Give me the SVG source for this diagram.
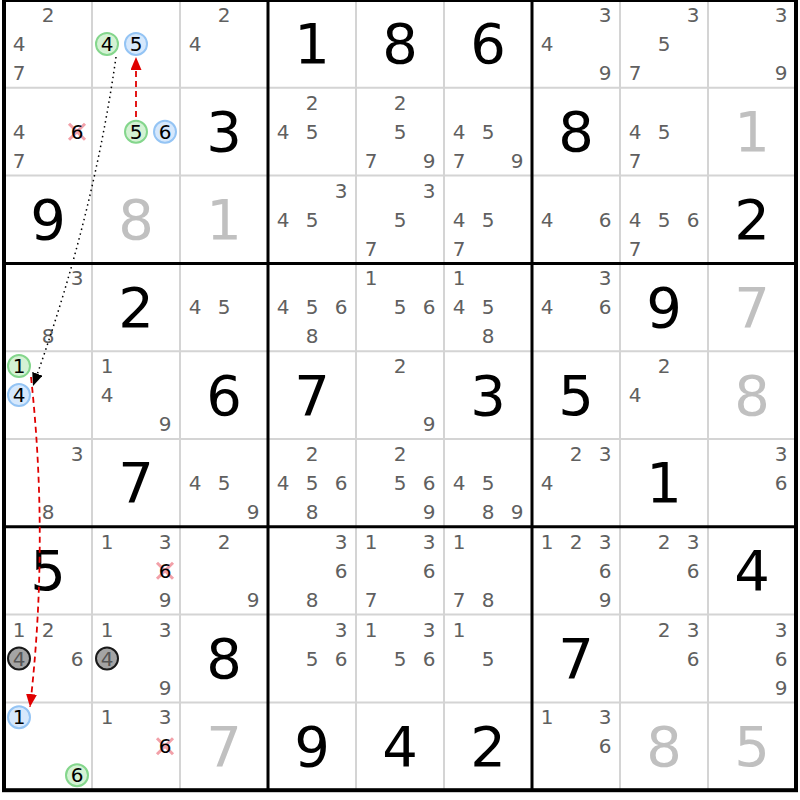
<svg xmlns="http://www.w3.org/2000/svg" width="800" height="800" viewBox="0 0 800 800">
<style>
text{font-family:"DejaVu Sans","Liberation Sans",sans-serif;text-anchor:middle}
.c{font-size:20px;fill:#606060}
.k{font-size:20px;fill:#000}
.g{font-size:56px;fill:#000}
.s{font-size:56px;fill:#c0c0c0}
.thin{stroke:#d4d4d4;stroke-width:2}
.thick{stroke:#000;stroke-width:3}
.cg{fill:#d4f2d4;stroke:#84d68c;stroke-width:2}
.cb{fill:#d6e8fc;stroke:#94c4f4;stroke-width:2}
.cd{fill:#a4a4a4;stroke:#1a1a1a;stroke-width:2}
.x{stroke:#f2a0a8;stroke-width:3}
.dg{font-size:20px;fill:#555}
</style>
<defs>
<marker id="ar" markerUnits="userSpaceOnUse" markerWidth="14" markerHeight="11" refX="13" refY="5.5" orient="auto"><path d="M0,0 L13,5.5 L0,11 z" fill="#e00000"/></marker>
<marker id="ak" markerUnits="userSpaceOnUse" markerWidth="14" markerHeight="11" refX="13" refY="5.5" orient="auto"><path d="M0,0 L13,5.5 L0,11 z" fill="#000"/></marker>
</defs>
<rect x="0" y="0" width="800" height="800" fill="#fff"/>
<g id="grid">
<path class="thin" d="M92,0V790M180,0V790M356,0V790M444,0V790M620,0V790M708,0V790M4,87.8H796M4,175.6H796M4,351.2H796M4,439H796M4,614.6H796M4,702.4H796"/>
<path class="thick" d="M268,0V790.2M532,0V790.2M4,263.4H796M4,526.8H796"/>
<rect x="4" y="0" width="792" height="790.2" fill="none" stroke="#000" stroke-width="4"/>
</g>
<g id="r1c1"><text class="c" x="48" y="22">2</text><text class="c" x="19" y="51">4</text><text class="c" x="19" y="80">7</text></g>
<g id="r1c2"><circle class="cg" cx="107" cy="43.9" r="11"/><circle class="cb" cx="136" cy="43.9" r="11"/><text class="k" x="107" y="51">4</text><text class="k" x="136" y="51">5</text></g>
<g id="r1c3"><text class="c" x="224" y="22">2</text><text class="c" x="195" y="51">4</text></g>
<g id="r1c4"><text class="g" x="312" y="63.4">1</text></g>
<g id="r1c5"><text class="g" x="400" y="63.4">8</text></g>
<g id="r1c6"><text class="g" x="488" y="63.4">6</text></g>
<g id="r1c7"><text class="c" x="605" y="22">3</text><text class="c" x="547" y="51">4</text><text class="c" x="605" y="80">9</text></g>
<g id="r1c8"><text class="c" x="693" y="22">3</text><text class="c" x="664" y="51">5</text><text class="c" x="635" y="80">7</text></g>
<g id="r1c9"><text class="c" x="781" y="22">3</text><text class="c" x="781" y="80">9</text></g>

<g id="r2c1"><text class="c" x="19" y="139">4</text><text class="c" x="19" y="168">7</text><path class="x" d="M69,123.7L85,139.7M85,123.7L69,139.7"/><text class="k" x="77" y="139">6</text></g>
<g id="r2c2"><circle class="cg" cx="136" cy="131.7" r="11"/><circle class="cb" cx="165" cy="131.7" r="11"/><text class="k" x="136" y="139">5</text><text class="k" x="165" y="139">6</text></g>
<g id="r2c3"><text class="g" x="224" y="151.2">3</text></g>
<g id="r2c4"><text class="c" x="312" y="110">2</text><text class="c" x="283" y="139">4</text><text class="c" x="312" y="139">5</text></g>
<g id="r2c5"><text class="c" x="400" y="110">2</text><text class="c" x="400" y="139">5</text><text class="c" x="371" y="168">7</text><text class="c" x="429" y="168">9</text></g>
<g id="r2c6"><text class="c" x="459" y="139">4</text><text class="c" x="488" y="139">5</text><text class="c" x="459" y="168">7</text><text class="c" x="517" y="168">9</text></g>
<g id="r2c7"><text class="g" x="576" y="151.2">8</text></g>
<g id="r2c8"><text class="c" x="635" y="139">4</text><text class="c" x="664" y="139">5</text><text class="c" x="635" y="168">7</text></g>
<g id="r2c9"><text class="s" x="752" y="151.2">1</text></g>

<g id="r3c1"><text class="g" x="48" y="239">9</text></g>
<g id="r3c2"><text class="s" x="136" y="239">8</text></g>
<g id="r3c3"><text class="s" x="224" y="239">1</text></g>
<g id="r3c4"><text class="c" x="341" y="198">3</text><text class="c" x="283" y="227">4</text><text class="c" x="312" y="227">5</text></g>
<g id="r3c5"><text class="c" x="429" y="198">3</text><text class="c" x="400" y="227">5</text><text class="c" x="371" y="256">7</text></g>
<g id="r3c6"><text class="c" x="459" y="227">4</text><text class="c" x="488" y="227">5</text><text class="c" x="459" y="256">7</text></g>
<g id="r3c7"><text class="c" x="547" y="227">4</text><text class="c" x="605" y="227">6</text></g>
<g id="r3c8"><text class="c" x="635" y="227">4</text><text class="c" x="664" y="227">5</text><text class="c" x="693" y="227">6</text><text class="c" x="635" y="256">7</text></g>
<g id="r3c9"><text class="g" x="752" y="239">2</text></g>

<g id="r4c1"><text class="c" x="77" y="285">3</text><text class="c" x="48" y="343">8</text></g>
<g id="r4c2"><text class="g" x="136" y="326.8">2</text></g>
<g id="r4c3"><text class="c" x="195" y="314">4</text><text class="c" x="224" y="314">5</text></g>
<g id="r4c4"><text class="c" x="283" y="314">4</text><text class="c" x="312" y="314">5</text><text class="c" x="341" y="314">6</text><text class="c" x="312" y="343">8</text></g>
<g id="r4c5"><text class="c" x="371" y="285">1</text><text class="c" x="400" y="314">5</text><text class="c" x="429" y="314">6</text></g>
<g id="r4c6"><text class="c" x="459" y="285">1</text><text class="c" x="459" y="314">4</text><text class="c" x="488" y="314">5</text><text class="c" x="488" y="343">8</text></g>
<g id="r4c7"><text class="c" x="605" y="285">3</text><text class="c" x="547" y="314">4</text><text class="c" x="605" y="314">6</text></g>
<g id="r4c8"><text class="g" x="664" y="326.8">9</text></g>
<g id="r4c9"><text class="s" x="752" y="326.8">7</text></g>

<g id="r5c1"><circle class="cg" cx="19" cy="366.1" r="11"/><circle class="cb" cx="19" cy="395.1" r="11"/><text class="k" x="19" y="373">1</text><text class="k" x="19" y="402">4</text></g>
<g id="r5c2"><text class="c" x="107" y="373">1</text><text class="c" x="107" y="402">4</text><text class="c" x="165" y="431">9</text></g>
<g id="r5c3"><text class="g" x="224" y="414.6">6</text></g>
<g id="r5c4"><text class="g" x="312" y="414.6">7</text></g>
<g id="r5c5"><text class="c" x="400" y="373">2</text><text class="c" x="429" y="431">9</text></g>
<g id="r5c6"><text class="g" x="488" y="414.6">3</text></g>
<g id="r5c7"><text class="g" x="576" y="414.6">5</text></g>
<g id="r5c8"><text class="c" x="664" y="373">2</text><text class="c" x="635" y="402">4</text></g>
<g id="r5c9"><text class="s" x="752" y="414.6">8</text></g>

<g id="r6c1"><text class="c" x="77" y="461">3</text><text class="c" x="48" y="519">8</text></g>
<g id="r6c2"><text class="g" x="136" y="502.4">7</text></g>
<g id="r6c3"><text class="c" x="195" y="490">4</text><text class="c" x="224" y="490">5</text><text class="c" x="253" y="519">9</text></g>
<g id="r6c4"><text class="c" x="312" y="461">2</text><text class="c" x="283" y="490">4</text><text class="c" x="312" y="490">5</text><text class="c" x="341" y="490">6</text><text class="c" x="312" y="519">8</text></g>
<g id="r6c5"><text class="c" x="400" y="461">2</text><text class="c" x="400" y="490">5</text><text class="c" x="429" y="490">6</text><text class="c" x="429" y="519">9</text></g>
<g id="r6c6"><text class="c" x="459" y="490">4</text><text class="c" x="488" y="490">5</text><text class="c" x="488" y="519">8</text><text class="c" x="517" y="519">9</text></g>
<g id="r6c7"><text class="c" x="576" y="461">2</text><text class="c" x="605" y="461">3</text><text class="c" x="547" y="490">4</text></g>
<g id="r6c8"><text class="g" x="664" y="502.4">1</text></g>
<g id="r6c9"><text class="c" x="781" y="461">3</text><text class="c" x="781" y="490">6</text></g>

<g id="r7c1"><text class="g" x="48" y="590.2">5</text></g>
<g id="r7c2"><text class="c" x="107" y="549">1</text><text class="c" x="165" y="549">3</text><path class="x" d="M157,562.7L173,578.7M173,562.7L157,578.7"/><text class="k" x="165" y="578">6</text><text class="c" x="165" y="607">9</text></g>
<g id="r7c3"><text class="c" x="224" y="549">2</text><text class="c" x="253" y="607">9</text></g>
<g id="r7c4"><text class="c" x="341" y="549">3</text><text class="c" x="341" y="578">6</text><text class="c" x="312" y="607">8</text></g>
<g id="r7c5"><text class="c" x="371" y="549">1</text><text class="c" x="429" y="549">3</text><text class="c" x="429" y="578">6</text><text class="c" x="371" y="607">7</text></g>
<g id="r7c6"><text class="c" x="459" y="549">1</text><text class="c" x="459" y="607">7</text><text class="c" x="488" y="607">8</text></g>
<g id="r7c7"><text class="c" x="547" y="549">1</text><text class="c" x="576" y="549">2</text><text class="c" x="605" y="549">3</text><text class="c" x="605" y="578">6</text><text class="c" x="605" y="607">9</text></g>
<g id="r7c8"><text class="c" x="664" y="549">2</text><text class="c" x="693" y="549">3</text><text class="c" x="693" y="578">6</text></g>
<g id="r7c9"><text class="g" x="752" y="590.2">4</text></g>

<g id="r8c1"><text class="c" x="19" y="637">1</text><text class="c" x="48" y="637">2</text><circle class="cd" cx="19" cy="658.5" r="11"/><text class="dg" x="19" y="666">4</text><text class="c" x="77" y="666">6</text></g>
<g id="r8c2"><text class="c" x="107" y="637">1</text><text class="c" x="165" y="637">3</text><circle class="cd" cx="107" cy="658.5" r="11"/><text class="dg" x="107" y="666">4</text><text class="c" x="165" y="695">9</text></g>
<g id="r8c3"><text class="g" x="224" y="678">8</text></g>
<g id="r8c4"><text class="c" x="341" y="637">3</text><text class="c" x="312" y="666">5</text><text class="c" x="341" y="666">6</text></g>
<g id="r8c5"><text class="c" x="371" y="637">1</text><text class="c" x="429" y="637">3</text><text class="c" x="400" y="666">5</text><text class="c" x="429" y="666">6</text></g>
<g id="r8c6"><text class="c" x="459" y="637">1</text><text class="c" x="488" y="666">5</text></g>
<g id="r8c7"><text class="g" x="576" y="678">7</text></g>
<g id="r8c8"><text class="c" x="664" y="637">2</text><text class="c" x="693" y="637">3</text><text class="c" x="693" y="666">6</text></g>
<g id="r8c9"><text class="c" x="781" y="637">3</text><text class="c" x="781" y="666">6</text><text class="c" x="781" y="695">9</text></g>

<g id="r9c1"><circle class="cb" cx="19" cy="717.3" r="11"/><circle class="cg" cx="77" cy="775.3" r="11"/><text class="k" x="19" y="724">1</text><text class="k" x="77" y="782">6</text></g>
<g id="r9c2"><text class="c" x="107" y="724">1</text><text class="c" x="165" y="724">3</text><path class="x" d="M157,738.3L173,754.3M173,738.3L157,754.3"/><text class="k" x="165" y="753">6</text></g>
<g id="r9c3"><text class="s" x="224" y="765.8">7</text></g>
<g id="r9c4"><text class="g" x="312" y="765.8">9</text></g>
<g id="r9c5"><text class="g" x="400" y="765.8">4</text></g>
<g id="r9c6"><text class="g" x="488" y="765.8">2</text></g>
<g id="r9c7"><text class="c" x="547" y="724">1</text><text class="c" x="605" y="724">3</text><text class="c" x="605" y="753">6</text></g>
<g id="r9c8"><text class="s" x="664" y="765.8">8</text></g>
<g id="r9c9"><text class="s" x="752" y="765.8">5</text></g>

<g id="connectors" fill="none">
<path d="M136,117 L136,57" stroke="#e00000" stroke-width="1.8" stroke-dasharray="6,4" marker-end="url(#ar)"/>
<path d="M116,57 Q93,220 33,386" stroke="#000" stroke-width="1.5" stroke-dasharray="1.5,3.5" marker-end="url(#ak)"/>
<path d="M31,377 Q49,542 30,707" stroke="#e00000" stroke-width="1.8" stroke-dasharray="6,4" marker-end="url(#ar)"/>
</g>
</svg>
